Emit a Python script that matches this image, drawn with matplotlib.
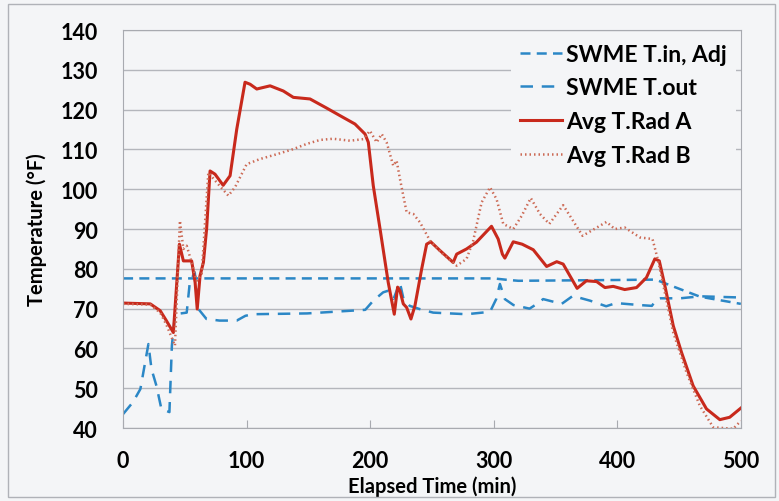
import numpy as np
import matplotlib.pyplot as plt

# SWME T.in, Adj
tin_x = [0, 100, 200, 300, 312, 320, 400, 431, 445, 467, 500]
tin_y = [77.6, 77.6, 77.6, 77.6, 77.2, 77.0, 77.2, 77.3, 75.6, 73.0, 71.2]

# SWME T.out
tout_x = [0, 8, 14, 20.5, 23, 27, 31, 37.5, 39.5, 42, 51.5, 54, 58, 61, 67.5, 78, 92,
          99, 105, 149, 170, 196, 202.5, 210.5, 214.5, 219, 224, 227, 232, 240, 251,
          278, 297, 302, 305, 309, 316, 329, 335, 340, 355, 364, 378, 391, 399, 418,
          428, 432, 435, 451, 467, 500]
tout_y = [43.5, 46.5, 49.8, 61.1, 54.8, 50.6, 44.8, 44.0, 60.7, 68.6, 69.0, 76.6, 79.1,
          69.9, 67.4, 67.0, 67.0, 68.2, 68.6, 68.8, 69.2, 69.7, 72.0, 74.1, 74.5, 72.5,
          76.6, 72.4, 70.7, 69.9, 69.0, 68.6, 69.2, 72.4, 76.2, 72.4, 70.9, 70.0, 71.2,
          72.4, 71.2, 73.2, 72.0, 70.6, 71.4, 70.9, 70.7, 72.4, 72.6, 72.6, 73.1, 72.8]

# Avg T.Rad A
ra_x = [0, 22, 30, 35, 40.7, 45.6, 48.8, 55.5, 58.3, 60, 62.3, 65, 67.6, 70.4, 74.4,
        81, 86.6, 92, 98.7, 102.8, 108.2, 119, 129.7, 137.8, 151.3, 164.8, 175.6, 187.7,
        195.8, 198.5, 202.5, 208, 214.6, 219.5, 222.2, 224.1, 226.8, 229.5, 233, 236.2,
        241.7, 245.7, 249, 256.5, 267.2, 270, 278, 286, 298.2, 303.6, 307, 309, 315.8,
        323, 332, 342.8, 351, 356.2, 367.5, 375, 383.3, 390, 396.7, 406, 415.6, 423.6,
        430.4, 434, 438.5, 445.3, 452, 461.4, 472.2, 483, 491, 500]
ra_y = [71.4, 71.2, 69.5, 67.0, 64.0, 86.2, 82.0, 82.0, 76.6, 69.9, 78.3, 81.6, 90.0,
        104.6, 103.8, 101.0, 103.4, 115.1, 126.9, 126.4, 125.2, 126.0, 124.7, 123.1,
        122.7, 120.4, 118.5, 116.4, 113.9, 111.8, 100.9, 90.0, 76.6, 68.6, 75.4, 74.5,
        71.2, 70.3, 67.4, 70.7, 80.0, 86.2, 86.8, 84.6, 81.6, 83.7, 85.0, 86.7, 90.7,
        87.5, 83.7, 82.7, 86.8, 86.2, 84.8, 80.6, 81.8, 81.2, 75.1, 77.0, 76.8, 75.3,
        75.6, 74.8, 75.3, 77.8, 82.5, 82.0, 75.8, 65.7, 59.0, 50.6, 44.8, 42.1, 42.7, 45.0]

# Avg T.Rad B
rb_x = [0, 22, 30, 35, 42, 46, 48.8, 51.5, 55.5, 59.6, 63.6, 69, 75.8, 85.2, 90.6, 100,
        110.8, 124.3, 137.8, 148.6, 159.4, 170, 183.7, 194.4, 199.8, 205.3, 209.3, 213.3,
        218.7, 221.4, 224.1, 229.5, 234.9, 240.3, 248.4, 259, 270, 278, 283.4, 290.2,
        297, 302.3, 307.7, 315.8, 322.6, 330, 337.4, 345, 356.2, 371.9, 391.3, 398, 406,
        418.3, 428.5, 433.1, 445.3, 456, 466.8, 477.6, 493.8, 500]
rb_y = [71.2, 71.0, 69.0, 66.0, 60.7, 92.1, 85.0, 85.8, 81.6, 77.0, 78.7, 104.2, 101.7,
        98.4, 100.5, 106.3, 107.6, 108.8, 110.1, 111.4, 112.4, 112.7, 112.2, 112.6, 114.7,
        111.8, 113.9, 111.8, 105.9, 107.2, 102.6, 94.2, 93.8, 91.7, 87.1, 83.7, 80.8,
        82.5, 87.1, 96.7, 100.5, 97.5, 91.3, 90.0, 93.3, 97.8, 93.8, 91.3, 96.0, 88.3,
        91.8, 90.0, 90.4, 87.9, 87.5, 82.0, 64.0, 54.0, 45.6, 40.2, 39.8, 41.8]

xticks = [0, 100, 200, 300, 400, 500]
yticks = [40, 50, 60, 70, 80, 90, 100, 110, 120, 130, 140]

plt.rcParams['font.family'] = ['Lato', 'DejaVu Sans']
plt.rcParams['font.weight'] = 'bold'
plt.rcParams['axes.labelweight'] = 'bold'

bg = '#f4f5f7'
blue = '#2b87c6'
fig = plt.figure(figsize=(7.79, 5.02), dpi=100, facecolor=bg)
ax = fig.add_axes([0.158, 0.1454, 0.793, 0.7926], facecolor=bg)

ax.plot(tin_x, tin_y, color=blue, lw=1.8, dashes=(4, 2.5), label='SWME T.in, Adj')
ax.plot(tout_x, tout_y, color=blue, lw=1.8, dashes=(5, 3.5), label='SWME T.out')
ax.plot(ra_x, ra_y, color='#c8291c', lw=2.2, label='Avg T.Rad A')
ax.plot(rb_x, rb_y, color='#cc6a55', lw=1.8, ls=(0, (0.6, 1.2)), label='Avg T.Rad B')

ax.set_xlim(0, 500)
ax.set_ylim(40, 140)
ax.set_xticks(xticks)
ax.set_yticks(yticks)
ax.grid(axis='y', color='#b4b6bc', lw=1.0)
ax.set_axisbelow(True)
for s in ax.spines.values():
    s.set_color('#a8aab0')
ax.tick_params(axis='x', direction='in', length=6, color='#a8aab0', labelsize=15.5, pad=16)
ax.tick_params(axis='y', length=0, labelsize=15.5, pad=18)
ax.set_xlabel('Elapsed Time (min)', fontsize=14.5, labelpad=3)
ax.set_ylabel('Temperature (°F)', fontsize=14.5, labelpad=10)

leg = ax.legend(loc='upper right', bbox_to_anchor=(1.0, 1.0), fontsize=16.5,
                frameon=True, facecolor=bg, edgecolor='none', framealpha=1,
                handlelength=1.8, handletextpad=0.2, labelspacing=0.55,
                borderaxespad=0.2, fancybox=False)

# outer chart border
fig.patches.append(plt.Rectangle((0.010, 0.008), 0.985, 0.982, transform=fig.transFigure,
                                 fill=False, edgecolor='#b0b2b8', lw=1.0))

fig.savefig('out.png', dpi=100, facecolor=bg)
